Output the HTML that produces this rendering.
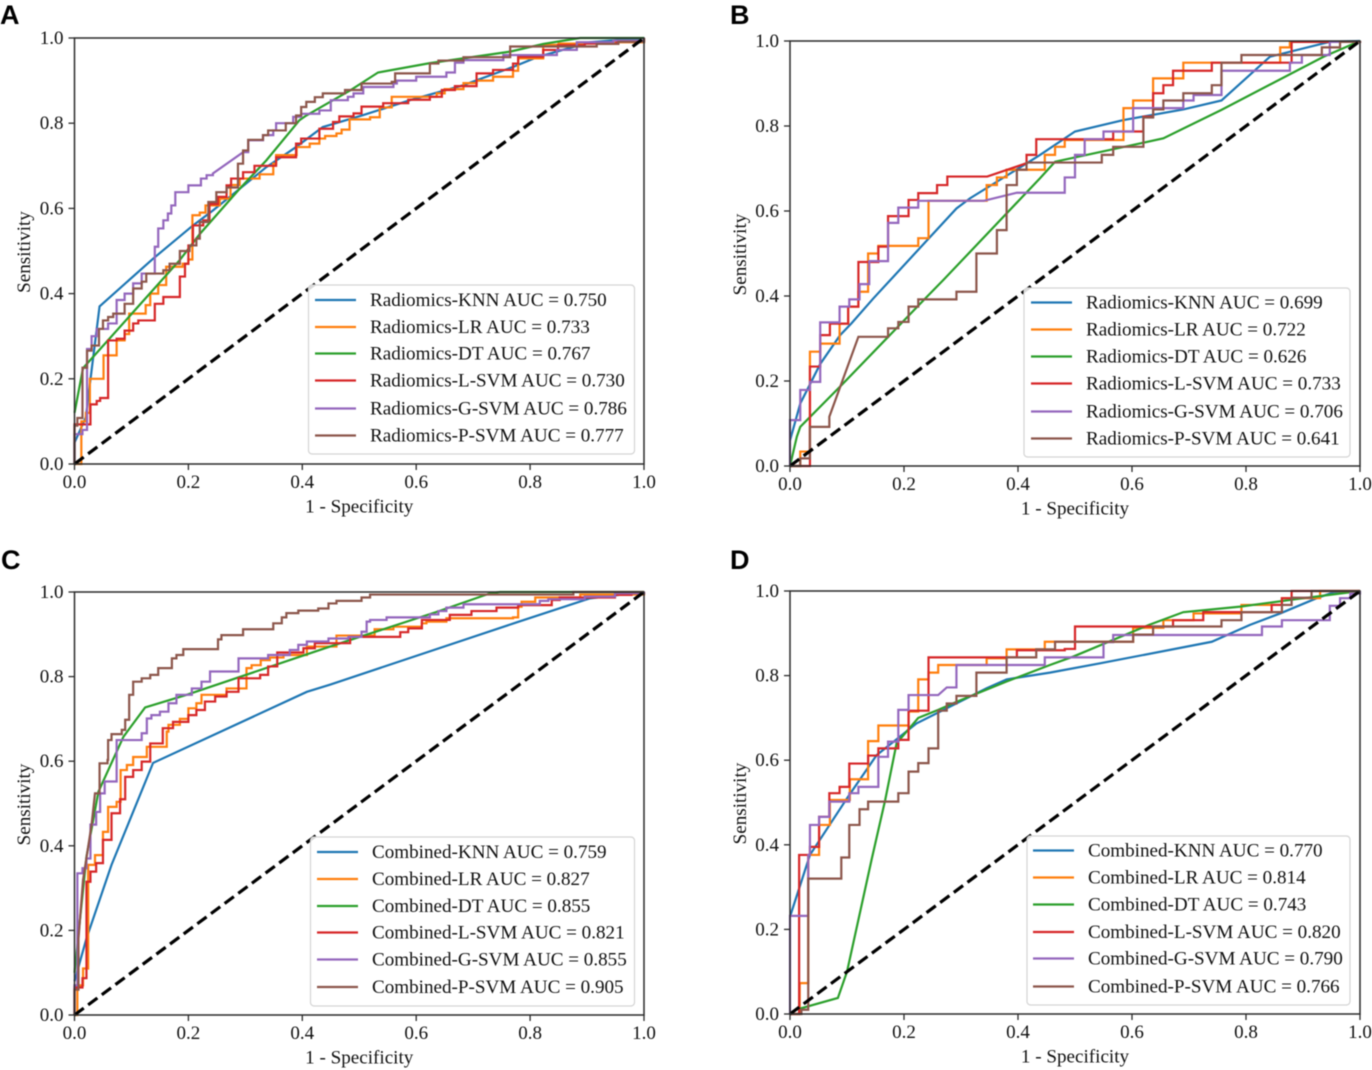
<!DOCTYPE html>
<html lang="en">
<head>
<meta charset="utf-8">
<title>ROC curves of radiomics and combined models</title>
<style>
html,body{margin:0;padding:0;background:#fff;}
#figure{display:block;width:1372px;height:1070px;filter:blur(0.45px);}
text{font-family:"Liberation Serif",serif;fill:#111;}
.panel-letter{font-family:"Liberation Sans",sans-serif;font-weight:bold;font-size:27px;fill:#000;}
</style>
</head>
<body>
<svg id="figure" xmlns="http://www.w3.org/2000/svg" width="1372" height="1070" viewBox="0 0 1372 1070">
  <rect width="1372" height="1070" fill="#fff"/>
  <text class="panel-letter" x="0" y="24">A</text>
  <text class="panel-letter" x="730" y="24">B</text>
  <text class="panel-letter" x="1" y="569">C</text>
  <text class="panel-letter" x="730" y="569">D</text>
</svg>
<script>
const axisTickValues = [0, 0.2, 0.4, 0.6, 0.8, 1.0];
const axisTickLabels = ["0.0", "0.2", "0.4", "0.6", "0.8", "1.0"];
const xAxisTitle = "1 - Specificity";
const yAxisTitle = "Sensitivity";
const chanceLine = [[0, 0], [1, 1]];

const legendA = ["Radiomics-KNN AUC = 0.750", "Radiomics-LR AUC = 0.733", "Radiomics-DT AUC = 0.767", "Radiomics-L-SVM AUC = 0.730", "Radiomics-G-SVM AUC = 0.786", "Radiomics-P-SVM AUC = 0.777"];
const legendB = ["Radiomics-KNN AUC = 0.699", "Radiomics-LR AUC = 0.722", "Radiomics-DT AUC = 0.626", "Radiomics-L-SVM AUC = 0.733", "Radiomics-G-SVM AUC = 0.706", "Radiomics-P-SVM AUC = 0.641"];
const legendC = ["Combined-KNN AUC = 0.759", "Combined-LR AUC = 0.827", "Combined-DT AUC = 0.855", "Combined-L-SVM AUC = 0.821", "Combined-G-SVM AUC = 0.855", "Combined-P-SVM AUC = 0.905"];
const legendD = ["Combined-KNN AUC = 0.770", "Combined-LR AUC = 0.814", "Combined-DT AUC = 0.743", "Combined-L-SVM AUC = 0.820", "Combined-G-SVM AUC = 0.790", "Combined-P-SVM AUC = 0.766"];

/* Each curve: [fpr, tpr] pairs. Stepped curves run across then up; a third item 1 marks a straight segment. */
const aKnn = [[0,0],[0,.05],[.02,.11],[.03,.22],[.044,.37],[.138,.482],[.208,.56],[.243,.595],[.29,.646],[.337,.697],[.389,.744],[.436,.791],[.4486,.796],[.507,.819],[.589,.854],[.682,.889],[.77,.932],[.812,.955],[.905,.99],[1,1]];
const aLr = [[0,0],[.012,.1],[.02,.12],[.027,.2],[.051,.255],[.074,.29],[.088,.305],[.096,.353],[.125,.373],[.133,.4],[.147,.42],[.161,.463],[.19,.47],[.2,.48],[.207,.584],[.22,.59],[.23,.607],[.255,.623],[.274,.655],[.29,.67],[.325,.68],[.349,.705],[.354,.725],[.39,.744],[.413,.752],[.43,.764],[.44,.77],[.46,.776],[.469,.785],[.483,.809],[.519,.814],[.536,.837],[.557,.862],[.636,.87],[.65,.88],[.683,.894],[.706,.9],[.735,.909],[.77,.923],[.779,.952],[.823,.984],[.85,.987],[.95,.99],[1,1]];
const aDt = [[0,.12],[.015,.225],[.185,.479],[.22,.54],[.29,.646],[.337,.713],[.395,.807],[.407,.818],[.4486,.85],[.484,.877],[.533,.919],[.624,.941],[.765,.968],[.823,.986],[.888,1],[1,1]];
const aLsvm = [[0,0],[0,.093],[.028,.14],[.039,.148],[.045,.155],[.059,.29],[.074,.294],[.088,.313],[.103,.33],[.112,.337],[.141,.376],[.156,.392],[.185,.44],[.194,.47],[.2,.513],[.208,.56],[.226,.572],[.237,.61],[.252,.627],[.267,.654],[.275,.67],[.296,.685],[.316,.7],[.354,.72],[.389,.752],[.398,.764],[.43,.787],[.454,.803],[.465,.816],[.49,.823],[.504,.839],[.542,.847],[.586,.855],[.624,.862],[.645,.878],[.668,.887],[.706,.917],[.735,.925],[.77,.94],[.779,.956],[.823,.972],[.849,.983],[.896,.987],[.952,.993],[1,1]];
const aGsvm = [[0,0],[0,.07],[.014,.08],[.022,.27],[.03,.3],[.039,.317],[.059,.33],[.074,.385],[.088,.4],[.103,.424],[.118,.447],[.141,.51],[.147,.553],[.156,.572],[.164,.588],[.17,.607],[.177,.638],[.2,.654],[.222,.67],[.232,.678],[.243,.682],[.296,.732,1],[.305,.76],[.331,.772],[.349,.783],[.354,.8],[.384,.815],[.398,.822],[.43,.83],[.45,.854],[.48,.862],[.49,.87],[.507,.885],[.56,.893],[.566,.9],[.6,.909],[.653,.919],[.668,.942],[.683,.948],[.753,.96],[.847,.972],[.882,.99],[.946,.994],[1,1]];
const aPsvm = [[0,0],[0,.09],[.005,.108],[.014,.226],[.022,.266],[.03,.278],[.043,.317],[.05,.337],[.059,.345],[.068,.353],[.088,.376],[.103,.412],[.118,.428],[.126,.447],[.156,.455],[.167,.47],[.185,.5],[.202,.513],[.214,.529],[.22,.568],[.235,.615],[.249,.638],[.267,.649],[.287,.705],[.296,.736],[.305,.761],[.331,.772],[.34,.783],[.371,.8],[.389,.818],[.398,.838],[.407,.85],[.422,.861],[.436,.87],[.475,.878],[.504,.893],[.557,.897],[.563,.917],[.624,.94],[.639,.947],[.683,.955],[.765,.98],[.917,.986],[.955,.991],[1,1]];

const bKnn = [[0,.06],[.018,.147],[.053,.24],[.088,.308],[.108,.336],[.146,.394],[.292,.606],[.316,.63],[.415,.712],[.4386,.732],[.5,.787],[.585,.814],[.69,.839],[.757,.86],[.842,.963],[.947,.998],[1,1]];
const bLr = [[0,0],[.018,.034],[.035,.269],[.053,.288],[.087,.335],[.102,.375],[.12,.41],[.137,.5],[.155,.518],[.225,.536],[.243,.624],[.345,.661],[.363,.679],[.38,.697],[.447,.732],[.465,.751],[.482,.767],[.585,.842],[.602,.86],[.637,.912],[.69,.949],[.86,.985],[.877,.998],[1,1]];
const bDt = [[0,0],[.012,.069],[.018,.092],[.088,.187],[.24,.398],[.269,.4376],[.4386,.677],[.465,.716],[.614,.759],[.655,.771],[.757,.838],[.936,.963],[1,1]];
const bLsvm = [[0,0],[.035,.034],[.035,.234],[.053,.308],[.07,.335],[.102,.375],[.12,.48],[.155,.516],[.172,.588],[.208,.626],[.225,.642],[.258,.661],[.276,.681],[.346,.681],[.414,.712,1],[.415,.732],[.432,.769],[.567,.787],[.62,.822],[.637,.877],[.655,.896],[.672,.93],[.74,.949],[.863,.949],[.88,.998],[1,1]];
const bGsvm = [[0,0],[0,.108],[.018,.179],[.035,.198],[.053,.338],[.087,.375],[.104,.392],[.122,.428],[.139,.482],[.172,.572],[.19,.608],[.225,.624],[.34,.624],[.398,.643,1],[.474,.643],[.482,.679],[.5,.732],[.517,.769],[.55,.787],[.602,.842],[.69,.86],[.708,.873],[.757,.93],[.877,.949],[.898,.967],[.947,.998],[1,1]];
const bPsvm = [[0,0],[.018,.018],[.035,.092],[.069,.092],[.069,.116],[.12,.304,1],[.172,.324],[.19,.339],[.208,.375],[.225,.392],[.292,.41],[.327,.5],[.363,.555],[.38,.661],[.398,.697],[.415,.714],[.547,.732],[.567,.751],[.62,.82],[.637,.839],[.655,.86],[.69,.877],[.74,.896],[.757,.949],[.792,.967],[.933,.985],[.965,.998],[1,1]];

const cKnn = [[0,.08],[.021,.181],[.065,.355],[.138,.596],[.408,.764],[.4486,.781],[.776,.928],[.905,.985],[1,1]];
const cLr = [[0,0],[.005,.07],[.015,.11],[.024,.355],[.036,.378],[.05,.433],[.059,.492],[.074,.504],[.081,.579],[.092,.591],[.103,.61],[.127,.634],[.162,.67],[.165,.686],[.185,.7],[.2,.725],[.214,.737],[.223,.757],[.267,.772],[.302,.82],[.311,.827],[.327,.839],[.343,.845],[.367,.851],[.408,.871],[.46,.897],[.527,.912],[.56,.918],[.61,.926],[.618,.93],[.653,.938],[.77,.94],[.779,.965],[.785,.977],[.809,.987],[.888,.994],[1,1]];
const cDt = [[0,.1],[.021,.374],[.042,.528],[.086,.658],[.124,.727],[.197,.757],[.4486,.871],[.636,.953],[.73,.997],[.747,1],[1,1]];
const cLsvm = [[0,0],[0,.065],[.014,.087],[.021,.315],[.028,.339],[.038,.359],[.05,.414],[.065,.477],[.08,.51],[.089,.563],[.103,.579],[.118,.599],[.133,.642],[.155,.678],[.173,.693],[.2,.709],[.214,.721],[.229,.741],[.247,.753],[.267,.764],[.288,.796],[.326,.804],[.34,.824],[.356,.857],[.402,.867],[.422,.879],[.484,.894],[.572,.905],[.586,.914],[.61,.934],[.659,.946],[.697,.955],[.741,.963],[.779,.969],[.838,.981],[.852,.987],[.949,.993],[.978,.997],[1,1]];
const cGsvm = [[0,0],[0,.07],[.005,.335],[.014,.347],[.021,.37],[.028,.45],[.038,.48],[.045,.524],[.053,.552],[.074,.65],[.118,.666],[.127,.701],[.135,.709],[.15,.717],[.165,.737],[.179,.757],[.206,.772],[.223,.788],[.238,.812],[.288,.843],[.34,.851],[.378,.863],[.393,.875],[.408,.883],[.446,.89],[.481,.894],[.504,.906],[.513,.93],[.519,.934],[.548,.94],[.624,.947],[.639,.955],[.653,.963],[.683,.971],[.817,.979],[.832,.983],[.896,.989],[.949,.997],[1,1]];
const cPsvm = [[0,0],[0,.06],[.007,.181],[.015,.319,1],[.03,.45,1],[.036,.524,1],[.044,.595],[.058,.603],[.059,.65],[.065,.664],[.083,.674],[.089,.698],[.096,.757],[.103,.788],[.118,.796],[.133,.804],[.147,.82],[.171,.843],[.179,.851],[.191,.865],[.252,.888],[.258,.898],[.296,.912],[.349,.926],[.364,.94],[.372,.95],[.393,.956],[.428,.961],[.446,.973],[.46,.979],[.504,.987],[.519,.994],[.876,1],[1,1]];

const dKnn = [[0,.23],[.035,.376],[.102,.514],[.152,.612],[.222,.687],[.345,.77],[.38,.791],[.456,.807],[.544,.829],[.74,.88],[.807,.92],[.86,.947],[.924,.983],[.956,.998],[1,1]];
const dLr = [[0,0],[.017,.073],[.032,.376],[.051,.447],[.07,.506],[.105,.555],[.137,.645],[.155,.682],[.187,.682],[.208,.715],[.225,.791],[.243,.807],[.26,.825],[.345,.841],[.38,.862],[.447,.88],[.602,.913],[.655,.931],[.708,.947],[.792,.967],[.863,.983],[.93,1],[1,1]];
const dDt = [[0,0],[.01,.01],[.084,.038],[.1,.1],[.143,.364],[.167,.506],[.187,.64],[.225,.7],[.26,.719],[.292,.738],[.38,.786],[.456,.825],[.497,.845],[.63,.92],[.69,.95],[.79,.963],[.889,.981],[1,1]];
const dLsvm = [[0,0],[.016,.376],[.035,.395],[.051,.466],[.069,.522],[.087,.537],[.104,.592],[.137,.611],[.155,.628],[.19,.648],[.208,.717],[.243,.843],[.38,.843],[.398,.86],[.482,.863],[.5,.916],[.672,.931],[.725,.95],[.845,.967],[.863,.983],[.88,1],[1,1]];
const dGsvm = [[0,0],[0,.232],[.032,.376],[.035,.447],[.051,.466],[.069,.502],[.104,.522],[.12,.537],[.155,.608],[.172,.644],[.19,.719],[.208,.754],[.26,.754],[.275,.772,1],[.292,.825],[.447,.843],[.55,.879],[.567,.896],[.828,.916],[.863,.931],[.947,.965],[.965,.983],[.983,.994],[1,1]];
const dPsvm = [[0,0],[.02,.01],[.032,.32],[.084,.32],[.09,.37],[.104,.447],[.122,.484],[.137,.502],[.19,.522],[.208,.573],[.225,.593],[.243,.628],[.26,.717],[.275,.734],[.292,.752],[.327,.807],[.38,.843],[.432,.862],[.465,.88],[.602,.897],[.637,.916],[.757,.931],[.792,.95],[.863,.967],[.88,.984],[.915,1],[1,1]];

const seriesColors = ["#1f77b4", "#ff7f0e", "#2ca02c", "#d62728", "#9467bd", "#8c564b"];
const seriesKeys = ["knn", "lr", "dt", "l-svm", "g-svm", "p-svm"];
const steppedFlags = [false, true, false, true, true, true];

const panels = [
  {id: "a", left: 74.5, right: 644, top: 38, bottom: 464, titleX: 30, legendLabels: legendA, curves: [aKnn, aLr, aDt, aLsvm, aGsvm, aPsvm],
   box: [308.5, 285, 326, 169], handle: 315, textX: 370, rows: [300, 327, 353.5, 380.5, 408.5, 435.5]},
  {id: "b", left: 790, right: 1360, top: 41, bottom: 466, titleX: 746, legendLabels: legendB, curves: [bKnn, bLr, bDt, bLsvm, bGsvm, bPsvm],
   box: [1024, 288, 326, 169], handle: 1031, textX: 1086, rows: [302.5, 329.5, 356.5, 383.5, 411.5, 438.5]},
  {id: "c", left: 74.5, right: 644, top: 592, bottom: 1015, titleX: 30, legendLabels: legendC, curves: [cKnn, cLr, cDt, cLsvm, cGsvm, cPsvm],
   box: [310.5, 837, 324, 169], handle: 317, textX: 372, rows: [852, 879, 906, 932.5, 959.5, 987]},
  {id: "d", left: 790, right: 1360, top: 591, bottom: 1014, titleX: 746, legendLabels: legendD, curves: [dKnn, dLr, dDt, dLsvm, dGsvm, dPsvm],
   box: [1027, 836, 323, 169], handle: 1033, textX: 1088, rows: [850.5, 877.5, 904.5, 932, 958.5, 986.5]}
];

const SVG_NS = "http://www.w3.org/2000/svg";
const figure = document.getElementById("figure");

function make(tag, parent, attrs) {
  const el = document.createElementNS(SVG_NS, tag);
  for (const k in attrs) el.setAttribute(k, attrs[k]);
  parent.appendChild(el);
  return el;
}

function curvePath(points, stepped, sx, sy) {
  let d = "";
  points.forEach(function (p, i) {
    if (i === 0) {
      d += "M" + sx(p[0]).toFixed(2) + " " + sy(p[1]).toFixed(2);
    } else if (stepped && !p[2]) {
      d += "H" + sx(p[0]).toFixed(2) + "V" + sy(p[1]).toFixed(2);
    } else {
      d += "L" + sx(p[0]).toFixed(2) + " " + sy(p[1]).toFixed(2);
    }
  });
  return d;
}

panels.forEach(function (panel) {
  const sx = function (v) { return panel.left + v * (panel.right - panel.left); };
  const sy = function (v) { return panel.bottom - v * (panel.bottom - panel.top); };

  const group = make("g", figure, {});
  
  

  panel.curves.forEach(function (points, i) {
    const curve = make("path", group, {d: curvePath(points, steppedFlags[i], sx, sy), fill: "none", stroke: seriesColors[i], "stroke-width": 2.2, "stroke-linejoin": "miter"});
    
    
  });

  const diagonal = make("line", group, {x1: sx(chanceLine[0][0]), y1: sy(chanceLine[0][1]), x2: sx(chanceLine[1][0]), y2: sy(chanceLine[1][1]), stroke: "#000", "stroke-width": 3.2, "stroke-dasharray": "11.5 5.5"});
  
  

  const frame = make("rect", group, {x: panel.left, y: panel.top, width: panel.right - panel.left, height: panel.bottom - panel.top, fill: "none", stroke: "#2b2b2b", "stroke-width": 1.5});
  
  

  axisTickValues.forEach(function (v, i) {
    const xt = make("line", group, {x1: sx(v), x2: sx(v), y1: panel.bottom, y2: panel.bottom + 6, stroke: "#2b2b2b", "stroke-width": 1.3});
    
    
    const xl = make("text", group, {x: sx(v), y: panel.bottom + 24, "text-anchor": "middle", "font-size": 19});
    xl.textContent = axisTickLabels[i];
    
    
    const yt = make("line", group, {x1: panel.left - 6, x2: panel.left, y1: sy(v), y2: sy(v), stroke: "#2b2b2b", "stroke-width": 1.3});
    
    
    const yl = make("text", group, {x: panel.left - 11, y: sy(v) + 6, "text-anchor": "end", "font-size": 19});
    yl.textContent = axisTickLabels[i];
    
    
  });

  const xTitle = make("text", group, {x: (panel.left + panel.right) / 2, y: panel.bottom + 48.5, "text-anchor": "middle", "font-size": 19.1});
  xTitle.textContent = xAxisTitle;
  
  

  const yMid = (panel.top + panel.bottom) / 2 + 1;
  const yTitle = make("text", group, {x: panel.titleX, y: yMid, "text-anchor": "middle", "font-size": 19.1, transform: "rotate(-90 " + panel.titleX + " " + yMid + ")"});
  yTitle.textContent = yAxisTitle;
  
  

  const legend = make("g", group, {});
  
  
  const legendBox = make("rect", legend, {x: panel.box[0], y: panel.box[1], width: panel.box[2], height: panel.box[3], rx: 3.5, fill: "#fff", "fill-opacity": 0.85, stroke: "#d4d4d4", "stroke-width": 1.2});
  
  

  panel.legendLabels.forEach(function (label, i) {
    const swatch = make("line", legend, {x1: panel.handle, x2: panel.handle + 41, y1: panel.rows[i], y2: panel.rows[i], stroke: seriesColors[i], "stroke-width": 2.2});
    
    
    const entry = make("text", legend, {x: panel.textX, y: panel.rows[i] + 6, "font-size": 19.1});
    entry.textContent = label;
    
    
  });
});
</script>
</body>
</html>
